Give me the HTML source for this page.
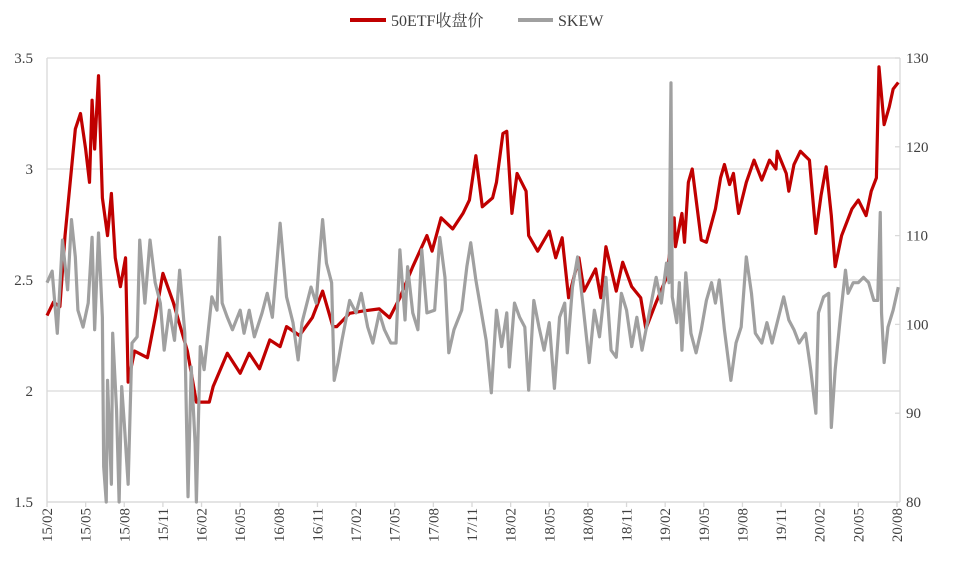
<!DOCTYPE html>
<html><head><meta charset="utf-8"><style>
body{margin:0;background:#fff;}
svg text{font-family:"Liberation Serif","Noto Serif CJK SC",serif;fill:#404040;}
</style></head><body>
<svg id="chart" width="954" height="570" viewBox="0 0 954 570" xmlns="http://www.w3.org/2000/svg">
<g id="legend">
 <line x1="350" y1="20" x2="386" y2="20" stroke="#c00000" stroke-width="4"/>
 <text x="391" y="26" font-size="16">50ETF收盘价</text>
 <line x1="518" y1="20" x2="553" y2="20" stroke="#a0a0a0" stroke-width="4"/>
 <text x="558" y="26" font-size="16">SKEW</text>
</g>
<g id="grid"></g><g id="axes"></g><g id="series"></g>
</svg>
<script>
const leftTicks=[1.5,2,2.5,3,3.5];
const rightTicks=[80,90,100,110,120,130];
const xTickLabels=["15/02","15/05","15/08","15/11","16/02","16/05","16/08","16/11","17/02","17/05","17/08","17/11","18/02","18/05","18/08","18/11","19/02","19/05","19/08","19/11","20/02","20/05","20/08"];
// months since Feb 2015
const etfMonths=[0,0.5,1.0,1.4,2.2,2.6,3.0,3.3,3.5,3.7,4.0,4.3,4.7,5.0,5.3,5.7,6.1,6.3,6.8,7.8,8.4,9.0,9.8,10.9,11.6,12.6,12.9,14.0,15.0,15.7,16.5,17.3,18.1,18.6,19.6,20.6,21.4,22.2,22.5,23.5,24.5,25.8,26.6,27.4,28.4,29.5,29.9,30.6,31.5,32.3,32.8,33.3,33.8,34.6,34.9,35.4,35.7,36.1,36.5,37.2,37.4,38.1,39.0,39.5,40.0,40.5,41.3,41.7,42.6,43.0,43.4,44.2,44.7,45.4,46.1,46.5,47.3,48.1,48.7,48.8,49.3,49.5,49.8,50.1,50.8,51.2,51.9,52.3,52.6,53.0,53.3,53.7,54.3,54.9,55.5,56.1,56.6,56.7,57.4,57.6,58.0,58.5,59.2,59.7,60.1,60.5,60.9,61.2,61.7,62.5,63.0,63.6,64.0,64.4,64.6,65.0,65.4,65.7,66.1];
const etfValues=[2.34,2.4,2.38,2.7,3.18,3.25,3.09,2.94,3.31,3.09,3.42,2.87,2.7,2.89,2.6,2.47,2.6,2.04,2.18,2.15,2.33,2.53,2.4,2.18,1.95,1.95,2.02,2.17,2.08,2.17,2.1,2.23,2.2,2.29,2.25,2.33,2.45,2.29,2.29,2.35,2.36,2.37,2.33,2.42,2.56,2.7,2.63,2.78,2.73,2.8,2.86,3.06,2.83,2.87,2.94,3.16,3.17,2.8,2.98,2.9,2.7,2.63,2.72,2.6,2.69,2.42,2.6,2.45,2.55,2.42,2.65,2.45,2.58,2.47,2.42,2.28,2.4,2.51,2.78,2.65,2.8,2.67,2.94,3.0,2.68,2.67,2.82,2.96,3.02,2.93,2.98,2.8,2.94,3.04,2.95,3.04,3.0,3.08,2.98,2.9,3.02,3.08,3.04,2.71,2.88,3.01,2.79,2.56,2.7,2.82,2.86,2.79,2.9,2.96,3.46,3.2,3.28,3.36,3.39];
const skewMonths=[0,0.4,0.8,1.2,1.6,1.9,2.2,2.4,2.8,3.2,3.5,3.7,4.0,4.3,4.4,4.6,4.7,5.0,5.1,5.4,5.6,5.8,6.0,6.3,6.6,7.0,7.2,7.6,8.0,8.4,8.8,9.1,9.5,9.9,10.3,10.7,10.85,10.95,11.2,11.5,11.6,11.9,12.2,12.8,13.2,13.4,13.6,14.0,14.4,15.0,15.3,15.7,16.1,16.7,17.1,17.5,18.1,18.6,19.1,19.5,19.8,20.5,20.9,21.2,21.4,21.7,22.1,22.3,22.6,22.9,23.5,24.0,24.4,24.9,25.3,25.8,26.2,26.7,27.1,27.4,27.8,28.0,28.4,28.8,29.1,29.5,30.1,30.5,30.9,31.2,31.6,32.2,32.6,32.9,33.3,33.7,34.1,34.5,34.9,35.3,35.7,35.9,36.3,36.7,37.1,37.4,37.8,38.2,38.6,39.0,39.4,39.8,40.2,40.4,40.8,41.2,41.6,42.1,42.5,42.9,43.4,43.8,44.2,44.6,45.0,45.4,45.8,46.2,46.7,47.3,47.7,48.1,48.3,48.45,48.55,48.9,49.1,49.3,49.6,50.0,50.4,50.8,51.2,51.6,51.9,52.2,52.6,53.1,53.5,53.9,54.3,54.7,55.0,55.5,55.9,56.3,56.8,57.2,57.6,58.0,58.4,58.9,59.3,59.7,59.9,60.3,60.7,60.9,61.2,61.6,62.0,62.2,62.6,63.0,63.4,63.8,64.2,64.5,64.7,64.8,65.0,65.3,65.7,66.1];
const skewValues=[104.7,106,99,109.5,103.9,111.8,107.6,101.6,99.7,102.4,109.8,99.4,110.3,100.8,84,80,93.7,82,99,90.4,80,93,88.9,82,97.9,98.6,109.5,102.4,109.5,104.7,102.4,97.1,101.6,98.2,106.1,99,87.8,80.6,95.2,86.6,80,97.5,94.9,103.1,101.6,109.8,102.4,100.8,99.4,101.6,99,101.6,98.6,101.3,103.5,100.8,111.4,103.1,100.2,96,100.2,104.2,102.4,108.4,111.8,106.9,104.7,93.7,95.7,98.2,102.7,101.3,103.5,99.7,97.9,101.3,99.4,97.9,97.9,108.4,100.5,106.5,101.3,99.4,108.4,101.3,101.6,109.8,105.3,96.8,99.4,101.6,106.5,109.2,105,101.6,98.2,92.3,101.6,97.5,101.3,95.2,102.4,100.8,99.7,92.6,102.7,99.7,97.1,100.2,92.8,100.8,102.4,96.8,104.2,107.6,102.4,95.7,101.6,98.6,105.3,97.1,96.3,103.5,101.6,97.5,100.8,97.1,100.8,105.3,102.4,106.9,104.7,127.2,103.1,100.2,104.7,97.1,105.8,99,96.8,99.4,102.7,104.7,102.4,105,99.4,93.7,97.9,99.7,107.6,103.5,99,97.9,100.2,97.9,100.8,103.1,100.5,99.4,97.9,99,94.9,90,101.3,103.1,103.5,88.4,94.9,100.8,106.1,103.5,104.7,104.7,105.3,104.7,102.7,102.7,112.6,101.3,95.7,99.7,101.6,104.2];

const NS="http://www.w3.org/2000/svg";
const L=47,R=900,T=58,B=502,TOTAL=66;
const xS=t=>L+t*(R-3-L)/TOTAL;
const yL=v=>B-(v-1.5)/2*(B-T);
const yR=v=>B-(v-80)/50*(B-T);
function mk(tag,attrs,parent){const e=document.createElementNS(NS,tag);for(const k in attrs)e.setAttribute(k,attrs[k]);parent.appendChild(e);return e;}
const grid=document.getElementById('grid'),axes=document.getElementById('axes'),series=document.getElementById('series');
leftTicks.forEach(v=>{
  const g=mk('line',{x1:L,x2:R,y1:yL(v),y2:yL(v),stroke:'#d9d9d9','stroke-width':1.3},grid);
  
  
  const t=mk('text',{x:33,y:yL(v)+5,'font-size':15,'text-anchor':'end'},axes);
  t.textContent=v;
  
  
});
rightTicks.forEach(v=>{
  const t=mk('text',{x:906,y:yR(v)+5,'font-size':15},axes);
  t.textContent=v;
  
  
  const tk=mk('line',{x1:R-5,x2:R,y1:yR(v),y2:yR(v),stroke:'#d9d9d9','stroke-width':1.3},axes);
  
  
});
const ax=mk('line',{x1:L,x2:R,y1:B,y2:B,stroke:'#d9d9d9','stroke-width':1.3},axes);


const al=mk('line',{x1:L,x2:L,y1:T,y2:B,stroke:'#d9d9d9','stroke-width':1.3},axes);


const ar=mk('line',{x1:R,x2:R,y1:T,y2:B,stroke:'#d9d9d9','stroke-width':1.3},axes);


xTickLabels.forEach((s,i)=>{
  const x=xS(i*3);
  const tk=mk('line',{x1:x,x2:x,y1:B,y2:B+5,stroke:'#d9d9d9','stroke-width':1.3},axes);
  
  
  const t=mk('text',{x:0,y:0,'font-size':15,'text-anchor':'end',transform:`translate(${x+5},508) rotate(-90)`},axes);
  t.textContent=s;
  
  
});
const sk=mk('polyline',{fill:'none',stroke:'#a0a0a0','stroke-width':3.2,'stroke-linejoin':'round',points:skewMonths.map((m,i)=>xS(m)+','+yR(skewValues[i])).join(' ')},series);


const et=mk('polyline',{fill:'none',stroke:'#c00000','stroke-width':3.2,'stroke-linejoin':'round',points:etfMonths.map((m,i)=>xS(m)+','+yL(etfValues[i])).join(' ')},series);


series.insertBefore(et,sk);
</script>
</body></html>
